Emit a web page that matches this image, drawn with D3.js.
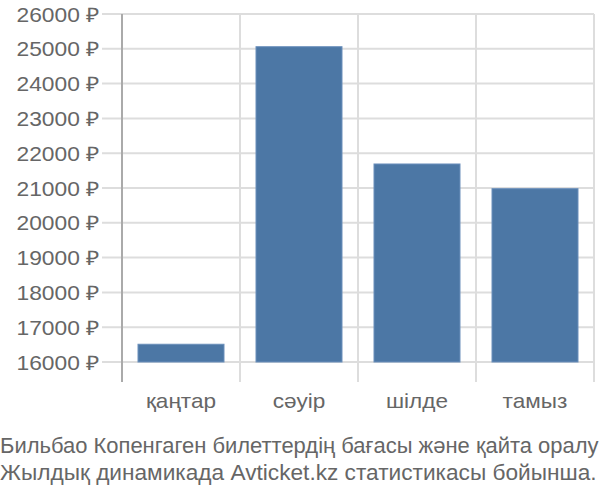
<!DOCTYPE html>
<html><head><meta charset="utf-8">
<script src="https://cdn.jsdelivr.net/npm/d3@7"></script>
<style>body{margin:0;background:#fff;font-family:"Liberation Sans",Arial,sans-serif;}</style>
</head><body><svg id="c" width="600" height="500"></svg>
<script>
const categories = ["қаңтар", "сәуір", "шілде", "тамыз"];
const values = [16510, 25060, 21690, 20980];
const yTicks = [16000,17000,18000,19000,20000,21000,22000,23000,24000,25000,26000];
const caption = ["Бильбао Копенгаген билеттердің бағасы және қайта оралу", "Жылдық динамикада Avticket.kz статистикасы бойынша."];

const svg = d3.select("#c");
const pLeft = 122, pRight = 594, pTop = 14, pBase = 362, pBottom = 382;
const x = d3.scaleBand().domain(categories).range([pLeft, pRight]).paddingInner(0.2712).paddingOuter(0.1356);
const xb = d3.scaleBand().domain(categories).range([pLeft, pRight]);
const y = d3.scaleLinear().domain([16000, 26000]).range([pBase, pTop]);

// horizontal grid
svg.append("g").selectAll("line").data(yTicks).join("line")
  .attr("x1", 102).attr("x2", pRight).attr("y1", d => y(d)).attr("y2", d => y(d))
  .attr("stroke", "#dddddd").attr("stroke-width", 2);
// vertical grid at band boundaries
const bounds = categories.map(c => xb(c)).concat([pRight]);
svg.append("g").selectAll("line").data(bounds.slice(1)).join("line")
  .attr("x1", d => d).attr("x2", d => d).attr("y1", pTop).attr("y2", pBottom)
  .attr("stroke", "#dddddd").attr("stroke-width", 2);
// y axis line
svg.append("line").attr("x1", pLeft).attr("x2", pLeft).attr("y1", pTop).attr("y2", pBottom)
  .attr("stroke", "#aaaaaa").attr("stroke-width", 2);

// bars
svg.append("g").selectAll("rect").data(values).join("rect")
  .attr("x", (d,i) => x(categories[i])).attr("width", x.bandwidth())
  .attr("y", d => y(d)).attr("height", d => y(16000) - y(d))
  .attr("fill", "#4c77a5").attr("stroke", "#6a8fbb").attr("stroke-width", 1);

// y tick labels
svg.append("g").selectAll("text").data(yTicks).join("text")
  .attr("transform", d => `translate(99,${y(d) + 7.5}) scale(1.14,1)`)
  .attr("text-anchor", "end")
  .attr("font-size", 20).attr("fill", "#666666").text(d => d + " ₽");

// x labels
svg.append("g").selectAll("text").data(categories).join("text")
  .attr("transform", d => `translate(${xb(d) + xb.bandwidth()/2},408) scale(1.13,1)`)
  .attr("text-anchor", "middle")
  .attr("font-size", 20).attr("fill", "#666666").text(d => d);

// caption
svg.append("g").selectAll("text").data(caption).join("text")
  .attr("font-size", 22).attr("fill", "#666666").text(d => d)
  .attr("transform", function(d,i) {
    const w = this.getComputedTextLength();
    const s = Math.min(1.03, 599 / w);
    return `translate(0,${453 + i*27}) scale(${s},1)`;
  });
</script></body></html>
